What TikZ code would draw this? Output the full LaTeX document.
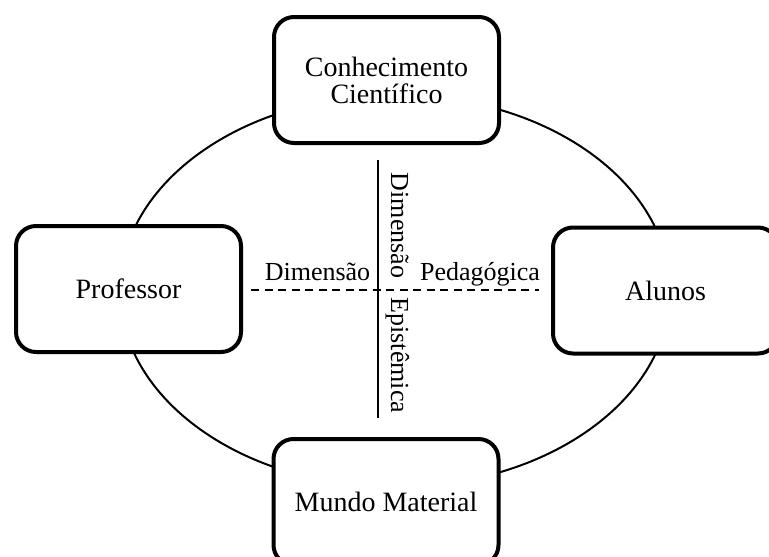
\documentclass[tikz,border=0pt]{standalone}
\usepackage{fontspec}
\setmainfont{Liberation Serif}
\tikzset{
  boxnode/.style={draw=black, fill=white, line width=4pt, rounded corners=20pt,
    minimum width=225pt, minimum height=126pt, inner sep=0pt, align=center,
    font=\fontsize{28}{27}\selectfont},
  axislabel/.style={font=\fontsize{26}{30}\selectfont, inner sep=0pt},
  solidaxis/.style={line width=2pt},
  dashaxis/.style={line width=2pt, dash pattern=on 8pt off 5.5pt},
  ring/.style={line width=2pt}
}
\begin{document}
\begin{tikzpicture}[x=1pt, y=-1pt]
\clip (0,0) rectangle (769,557);
\fill[white] (0,0) rectangle (769,557);
% surrounding ellipse
\draw[ring] (395,291) ellipse [x radius=275pt, y radius=196pt];
% boxes
\node[boxnode] (cc) at (386.5,80) {Conhecimento\\Científico};
\node[boxnode] (prof) at (128.5,289) {Professor};
\node[boxnode] (alunos) at (665.5,290.5) {Alunos};
\node[boxnode] (mundo) at (386,502) {Mundo Material};
% axes
\coordinate (hl) at ([xshift=8pt]prof.east);
\coordinate (hr) at ([xshift=-12pt]alunos.west);
\coordinate (vt) at (378,160);
\coordinate (vb) at (378,418);
\draw[dashaxis] (hl |- 0,290) -- (hr |- 0,290);
\draw[solidaxis] (vt) -- (vb);
% labels
\node[axislabel, anchor=base] (dimp) at (317.5,280) {Dimensão};
\node[axislabel, anchor=base] (ped) at (480,280) {Pedagógica};
\node[axislabel, anchor=base, rotate=-90] (dime) at (391,293) {Dimensão\hspace{13pt} Epistêmica};
\end{tikzpicture}
\end{document}
